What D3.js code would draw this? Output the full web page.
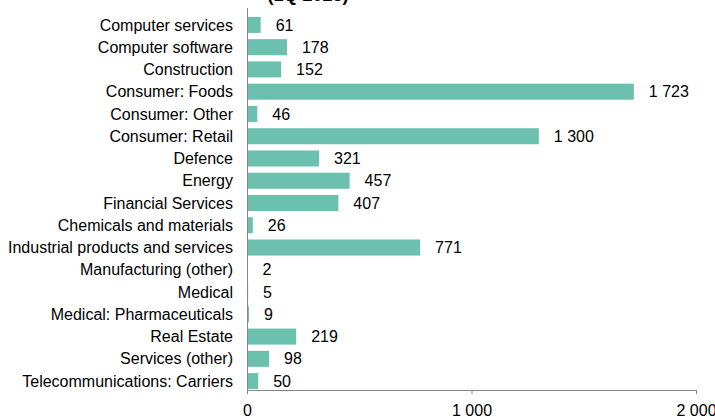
<!DOCTYPE html>
<html>
<head>
<meta charset="utf-8">
<script src="https://cdn.jsdelivr.net/npm/d3@7"></script>
<style>
  body { margin: 0; background: #fff; }
  text { font-family: Arial, 'Liberation Sans', sans-serif; fill: #000; }
</style>
</head>
<body>
<script>
let sectors = [
    'Computer services', 'Computer software', 'Construction', 'Consumer: Foods',
    'Consumer: Other', 'Consumer: Retail', 'Defence', 'Energy', 'Financial Services',
    'Chemicals and materials', 'Industrial products and services', 'Manufacturing (other)',
    'Medical', 'Medical: Pharmaceuticals', 'Real Estate', 'Services (other)',
    'Telecommunications: Carriers'
]
let values = [61, 178, 152, 1723, 46, 1300, 321, 457, 407, 26, 771, 2, 5, 9, 219, 98, 50]
let xTicks = [0, 1000, 2000]
let title = '(1Q 2023)'

let width = 715
let height = 417
let margin = { top: 16, right: 19, bottom: 27, left: 247 }

let locale = d3.formatLocale({ decimal: ',', thousands: '\u00a0', grouping: [3], currency: ['', ''] })
let fmt = locale.format(',d')

let data = sectors.map((s, i) => ({ sector: s, value: values[i] }))

let svg = d3.select('body')
    .append('svg')
        .attr('width', width)
        .attr('height', height)

let x = d3.scaleLinear()
    .domain([0, 2000])
    .range([margin.left, width - margin.right])

let y = d3.scaleBand()
    .domain(sectors)
    .range([margin.top, height - margin.bottom])
    .paddingInner(0.28)
    .paddingOuter(0.04)

svg.append('text')
    .attr('x', 308)
    .attr('y', 1)
    .attr('text-anchor', 'middle')
    .style('font-size', '18px')
    .style('font-weight', 'bold')
    .text(title)

svg.append('g')
    .selectAll('rect')
    .data(data)
    .enter()
    .append('rect')
        .attr('x', x(0))
        .attr('y', d => y(d.sector))
        .attr('width', d => x(d.value) - x(0))
        .attr('height', y.bandwidth())
        .attr('fill', '#6cc0ae')

svg.append('g')
    .selectAll('text')
    .data(data)
    .enter()
    .append('text')
        .attr('x', d => x(d.value) + 15)
        .attr('y', d => y(d.sector) + y.bandwidth() / 2)
        .attr('dy', '0.35em')
        .style('font-size', '16px')
        .text(d => fmt(d.value))

svg.append('g')
    .selectAll('text')
    .data(sectors)
    .enter()
    .append('text')
        .attr('x', x(0) - 14)
        .attr('y', d => y(d) + y.bandwidth() / 2)
        .attr('dy', '0.35em')
        .attr('text-anchor', 'end')
        .style('font-size', '16px')
        .text(d => d)

// vertical axis line
svg.append('line')
    .attr('x1', x(0) + 0.5)
    .attr('x2', x(0) + 0.5)
    .attr('y1', 8)
    .attr('y2', height - margin.bottom)
    .attr('stroke', '#868686')

let xAxis = svg.append('g')
    .attr('transform', 'translate(0,' + (height - margin.bottom) + ')')
    .call(d3.axisBottom(x)
        .tickValues(xTicks)
        .tickSize(4)
        .tickPadding(11)
        .tickSizeOuter(0)
        .tickFormat(fmt))

xAxis.select('.domain').attr('stroke', '#868686')
xAxis.selectAll('.tick line').attr('stroke', '#868686')
xAxis.selectAll('.tick text')
    .style('font-size', '16px')
    .style('font-family', "Arial, 'Liberation Sans', sans-serif")
    .attr('fill', '#000')
</script>
</body>
</html>
